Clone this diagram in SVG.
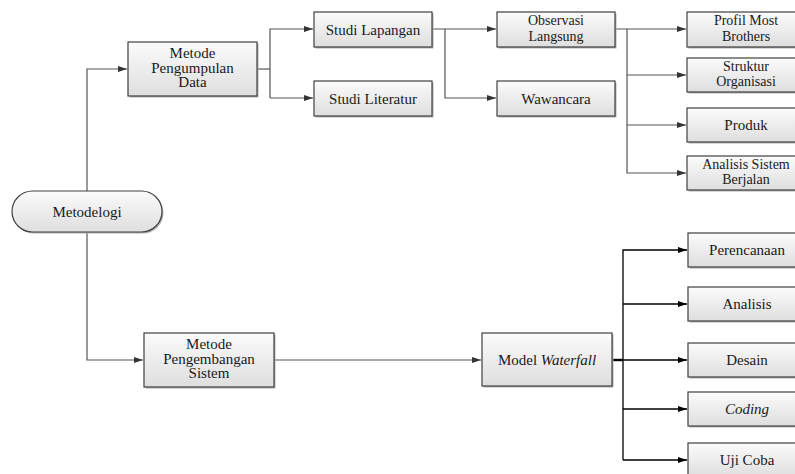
<svg xmlns="http://www.w3.org/2000/svg" width="795" height="474" viewBox="0 0 795 474">
<style>
.box{fill:url(#g);stroke:#404040;stroke-width:1.2}
.sh{fill:#b0b0b0}
.t{font-family:'Liberation Serif','Times New Roman',serif;font-size:15px;fill:#1a1a1a;text-anchor:middle}
.t2{font-size:14px}
.c{fill:none;stroke:#555;stroke-width:1.2}
.k{fill:none;stroke:#000;stroke-width:1.3}
</style>
<defs>
<linearGradient id="g" x1="0" y1="0" x2="0" y2="1">
<stop offset="0" stop-color="#fbfbfb"/>
<stop offset="1" stop-color="#dedede"/>
</linearGradient>
<marker id="a" markerUnits="userSpaceOnUse" markerWidth="9" markerHeight="6" refX="9" refY="3" orient="auto">
<path d="M0,0 L9,3 L0,6 z" fill="#333"/>
</marker>
<marker id="b" markerUnits="userSpaceOnUse" markerWidth="9" markerHeight="6" refX="9" refY="3" orient="auto">
<path d="M0,0 L9,3 L0,6 z" fill="#000"/>
</marker>
</defs>
<rect width="795" height="474" fill="#fff"/>
<g id="connectors">
<path class="c" d="M87 191 V69 H127" marker-end="url(#a)"/>
<path class="c" d="M87 232 V360 H143" marker-end="url(#a)"/>
<path class="c" d="M257 69 H270"/>
<path class="c" d="M270 98 V29 H313" marker-end="url(#a)"/>
<path class="c" d="M270 98 H313" marker-end="url(#a)"/>
<path class="c" d="M432 29 H496" marker-end="url(#a)"/>
<path class="c" d="M445 29 V98 H496" marker-end="url(#a)"/>
<path class="c" d="M615 29 H686" marker-end="url(#a)"/>
<path class="c" d="M627 29 V173 H686" marker-end="url(#a)"/>
<path class="c" d="M627 75 H686" marker-end="url(#a)"/>
<path class="c" d="M627 125 H686" marker-end="url(#a)"/>
<path class="c" d="M274 360 H481" marker-end="url(#a)"/>
<path class="k" d="M612 360 H623" style="stroke-width:2.4"/>
<path class="k" d="M623 460 V250 H687" marker-end="url(#b)"/>
<path class="k" d="M623 304 H687" marker-end="url(#b)"/>
<path class="k" d="M623 360 H687" marker-end="url(#b)"/>
<path class="k" d="M623 409 H687" marker-end="url(#b)"/>
<path class="k" d="M623 460 H687" marker-end="url(#b)"/>
</g>
<g id="metodelogi">
<rect class="sh" x="13.5" y="192.5" width="150" height="41" rx="20.5"/>
<rect class="box" x="12" y="191" width="150" height="41" rx="20.5"/>
<text class="t" x="87" y="216.5">Metodelogi</text>
</g>
<g id="pengumpulan">
<rect class="sh" x="129.5" y="43.5" width="129" height="54"/>
<rect class="box" x="128" y="42" width="129" height="54"/>
<text class="t" x="192.5" y="58"><tspan x="192.5">Metode</tspan><tspan x="192.5" dy="14.5">Pengumpulan</tspan><tspan x="192.5" dy="14.5">Data</tspan></text>
</g>
<g id="lapangan">
<rect class="sh" x="315.5" y="13.5" width="118" height="35"/>
<rect class="box" x="314" y="12" width="118" height="35"/>
<text class="t" x="373" y="34.5">Studi Lapangan</text>
</g>
<g id="literatur">
<rect class="sh" x="315.5" y="82.5" width="118" height="35"/>
<rect class="box" x="314" y="81" width="118" height="35"/>
<text class="t" x="373" y="103.5">Studi Literatur</text>
</g>
<g id="observasi">
<rect class="sh" x="498.5" y="13.5" width="118" height="35"/>
<rect class="box" x="497" y="12" width="118" height="35"/>
<text class="t t2" x="556" y="25"><tspan x="556">Observasi</tspan><tspan x="556" dy="15.5">Langsung</tspan></text>
</g>
<g id="wawancara">
<rect class="sh" x="498.5" y="82.5" width="118" height="35"/>
<rect class="box" x="497" y="81" width="118" height="35"/>
<text class="t" x="556" y="103.5">Wawancara</text>
</g>
<g id="profil">
<rect class="sh" x="688.5" y="13.5" width="118" height="35"/>
<rect class="box" x="687" y="12" width="118" height="35"/>
<text class="t t2" x="746" y="25"><tspan x="746">Profil Most</tspan><tspan x="746" dy="15.5">Brothers</tspan></text>
</g>
<g id="struktur">
<rect class="sh" x="688.5" y="59.5" width="118" height="34"/>
<rect class="box" x="687" y="58" width="118" height="34"/>
<text class="t t2" x="746" y="70.5"><tspan x="746">Struktur</tspan><tspan x="746" dy="15.5">Organisasi</tspan></text>
</g>
<g id="produk">
<rect class="sh" x="688.5" y="109.5" width="118" height="34"/>
<rect class="box" x="687" y="108" width="118" height="34"/>
<text class="t" x="746" y="130">Produk</text>
</g>
<g id="analisis-sistem">
<rect class="sh" x="688.5" y="157.5" width="118" height="34"/>
<rect class="box" x="687" y="156" width="118" height="34"/>
<text class="t t2" x="746" y="168.5"><tspan x="746">Analisis Sistem</tspan><tspan x="746" dy="15.5">Berjalan</tspan></text>
</g>
<g id="pengembangan">
<rect class="sh" x="145.5" y="334.5" width="130" height="54"/>
<rect class="box" x="144" y="333" width="130" height="54"/>
<text class="t" x="209" y="349"><tspan x="209">Metode</tspan><tspan x="209" dy="14.5">Pengembangan</tspan><tspan x="209" dy="14.5">Sistem</tspan></text>
</g>
<g id="waterfall">
<rect class="sh" x="483.5" y="334.5" width="130" height="53"/>
<rect class="box" x="482" y="333" width="130" height="53"/>
<text class="t" x="547" y="364.5">Model <tspan font-style="italic">Waterfall</tspan></text>
</g>
<g id="perencanaan">
<rect class="sh" x="689.5" y="234.5" width="118" height="34"/>
<rect class="box" x="688" y="233" width="118" height="34"/>
<text class="t" x="747" y="255">Perencanaan</text>
</g>
<g id="analisis">
<rect class="sh" x="689.5" y="288.5" width="118" height="34"/>
<rect class="box" x="688" y="287" width="118" height="34"/>
<text class="t" x="747" y="309">Analisis</text>
</g>
<g id="desain">
<rect class="sh" x="689.5" y="344.5" width="118" height="34"/>
<rect class="box" x="688" y="343" width="118" height="34"/>
<text class="t" x="747" y="365">Desain</text>
</g>
<g id="coding">
<rect class="sh" x="689.5" y="393.5" width="118" height="34"/>
<rect class="box" x="688" y="392" width="118" height="34"/>
<text class="t" x="747" y="414" font-style="italic">Coding</text>
</g>
<g id="ujicoba">
<rect class="sh" x="689.5" y="444.5" width="118" height="34"/>
<rect class="box" x="688" y="443" width="118" height="34"/>
<text class="t" x="747" y="465">Uji Coba</text>
</g>
</svg>
